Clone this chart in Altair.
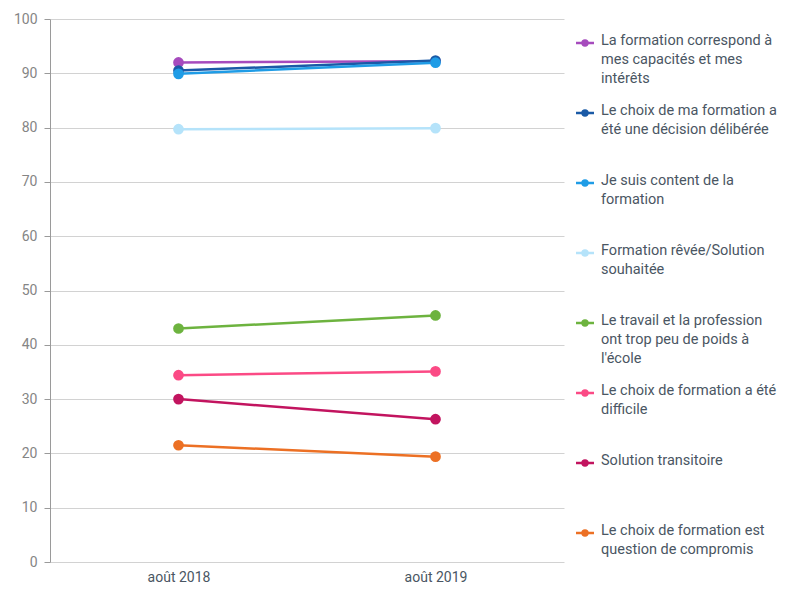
import altair as alt
import pandas as pd

periods = ["août 2018", "août 2019"]
series = [
    "La formation correspond à mes capacités et mes intérêts",
    "Le choix de ma formation a été une décision délibérée",
    "Je suis content de la formation",
    "Formation rêvée/Solution souhaitée",
    "Le travail et la profession ont trop peu de poids à l'école",
    "Le choix de formation a été difficile",
    "Solution transitoire",
    "Le choix de formation est question de compromis",
]
legend_labels = [
    "La formation correspond à\nmes capacités et mes\nintérêts",
    "Le choix de ma formation a\nété une décision délibérée",
    "Je suis content de la\nformation",
    "Formation rêvée/Solution\nsouhaitée",
    "Le travail et la profession\nont trop peu de poids à\nl'école",
    "Le choix de formation a été\ndifficile",
    "Solution transitoire",
    "Le choix de formation est\nquestion de compromis",
]
values_2018 = [92.0, 90.5, 89.9, 79.7, 43.0, 34.4, 30.0, 21.5]
values_2019 = [92.2, 92.35, 91.95, 79.9, 45.4, 35.1, 26.3, 19.4]
colors = ["#a64bbd", "#1a5aa6", "#1f9ce6", "#b5e3fa", "#6db33f", "#fb4a85", "#c2145f", "#ec7024"]

rows = []
for i, s in enumerate(series):
    rows.append({"serie": s, "periode": periods[0], "valeur": values_2018[i], "ordre": i})
    rows.append({"serie": s, "periode": periods[1], "valeur": values_2019[i], "ordre": i})
df = pd.DataFrame(rows)

legend_df = pd.DataFrame({"serie": series, "label": legend_labels, "ordre": list(range(len(series)))})

FONT = "Roboto"
color = alt.Color("serie:N", scale=alt.Scale(domain=series, range=colors), legend=None)

base = alt.Chart(df).encode(
    x=alt.X(
        "periode:N",
        sort=periods,
        title=None,
        axis=alt.Axis(
            labelAngle=0, domain=False, ticks=False, labelPadding=8,
            labelFont=FONT, labelFontSize=14, labelColor="#4a5663",
        ),
    ),
    y=alt.Y(
        "valeur:Q",
        scale=alt.Scale(domain=[0, 100], nice=False),
        title=None,
        axis=alt.Axis(
            values=list(range(0, 101, 10)), domainColor="#9a9a9a", tickColor="#9a9a9a",
            tickSize=6, labelPadding=7, gridColor="#d2d2d2", labelFont=FONT,
            labelFontSize=14, labelColor="#858585",
        ),
    ),
    color=color,
    order=alt.Order("ordre:Q"),
)
lines = base.mark_line(strokeWidth=2.5)
points = base.mark_circle(size=115, opacity=1)
main = alt.layer(lines, points).properties(width=514, height=543)

ly = alt.Y("ordre:Q", scale=alt.Scale(domain=[0, 7], range=[24, 514]), axis=None)
lbase = alt.Chart(legend_df).encode(y=ly, color=color)
lrule = lbase.mark_rule(strokeWidth=2.5).encode(x=alt.value(0), x2=alt.value(18))
lpoint = lbase.mark_circle(size=55, opacity=1).encode(x=alt.value(9))
ltext = alt.Chart(legend_df).mark_text(
    align="left", baseline="top", dy=-9, lineBreak="\n", lineHeight=19,
    font=FONT, fontSize=14.5, color="#4a5663",
).encode(x=alt.value(25), y=ly, text="label:N")
legend = alt.layer(lrule, lpoint, ltext).properties(width=195, height=543)

chart = alt.hconcat(main, legend, spacing=10).properties(
    padding={"left": 5, "top": 4, "right": 0, "bottom": 0},
    background="white",
).configure_view(stroke=None)

chart.save("out.html", embed_options={"renderer": "svg", "actions": False})
